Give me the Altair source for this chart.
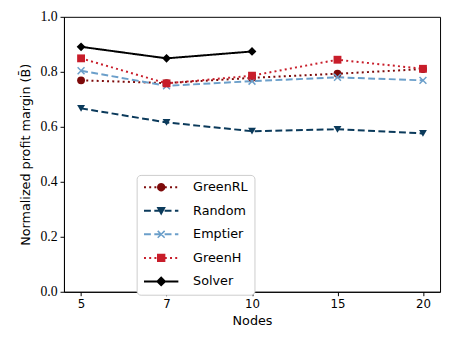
import math
import altair as alt
import pandas as pd

nodes = ["5", "7", "10", "15", "20"]
series = ["GreenRL", "Random", "Emptier", "GreenH", "Solver"]
greenrl = [0.769, 0.759, 0.778, 0.793, 0.810]
random_ = [0.667, 0.616, 0.584, 0.591, 0.576]
emptier = [0.804, 0.749, 0.766, 0.780, 0.769]
greenh = [0.849, 0.758, 0.786, 0.844, 0.811]
solver = [0.891, 0.849, 0.874]

colors = ["#7d0a0a", "#0b3a5b", "#6b9fca", "#c81d2a", "#000000"]
dashes = [[2, 3.3], [7, 3.5], [7, 3.5], [2, 3.3], [1, 0]]

rows = []
for name, vals in zip(series, [greenrl, random_, emptier, greenh, solver]):
    for n, v in zip(nodes, vals):
        rows.append({"nodes": n, "value": v, "series": name})
df = pd.DataFrame(rows)

x = alt.X("nodes:O", sort=nodes, scale=alt.Scale(type="point", padding=0.2),
          axis=alt.Axis(title="Nodes", labelAngle=0, labelFont="DejaVu Sans",
                        labelFontSize=12, titleFont="DejaVu Sans", titleFontSize=13,
                        titleFontWeight="normal", tickSize=4, labelPadding=3,
                        titlePadding=5, domainColor="black", tickColor="black",
                        labelColor="black", titleColor="black", grid=False))
y = alt.Y("value:Q", scale=alt.Scale(domain=[0, 1], nice=False, zero=True),
          axis=alt.Axis(title="Normalized profit margin (B\u0304)", values=[0, 0.2, 0.4, 0.6, 0.8, 1.0],
                        format=".1f", labelFont="Liberation Serif", labelFontSize=14,
                        titleFont="DejaVu Sans", titleFontSize=13, titleFontWeight="normal",
                        tickSize=4, labelPadding=3, titlePadding=8, domainColor="black",
                        tickColor="black", labelColor="black", titleColor="black", grid=False))

cscale = alt.Scale(domain=series, range=colors)
dscale = alt.Scale(domain=series, range=dashes)

# ---- legend glyphs (line sample + marker) as filled paths; unit = 5px ----
U = 5.0
HALF = 3.5   # half line length in units (35px)
TH = 0.2     # half line thickness (2px)


def rect(x0, x1, h=TH):
    return f"M{x0:.3f},{-h:.3f}L{x1:.3f},{-h:.3f}L{x1:.3f},{h:.3f}L{x0:.3f},{h:.3f}Z"


def line_path(pattern):
    on, off = pattern[0] / U, pattern[1] / U
    if off == 0:
        return rect(-HALF, HALF)
    parts = []
    pos = -HALF
    while pos < HALF:
        end = min(pos + on, HALF)
        parts.append(rect(pos, end))
        pos += on + off
    return "".join(parts)


def poly(pts):
    return "M" + "L".join(f"{px:.3f},{py:.3f}" for px, py in pts) + "Z"


def circle(r):
    return poly([(r * math.cos(2 * math.pi * k / 20), r * math.sin(2 * math.pi * k / 20)) for k in range(20)])


def xmark(a, t):
    paths = []
    for ang in (math.pi / 4, -math.pi / 4):
        c, s = math.cos(ang), math.sin(ang)
        pts = [(-a, -t), (a, -t), (a, t), (-a, t)]
        paths.append(poly([(px * c - py * s, px * s + py * c) for px, py in pts]))
    return "".join(paths)


markers = [
    circle(0.85),
    poly([(-0.95, -0.75), (0.95, -0.75), (0, 0.95)]),
    xmark(1.0, 0.16),
    poly([(-0.85, -0.85), (0.85, -0.85), (0.85, 0.85), (-0.85, 0.85)]),
    poly([(-1.05, 0), (0, -1.05), (1.05, 0), (0, 1.05)]),
]
legend_paths = [line_path(d) + m for d, m in zip(dashes, markers)]

legend_layer = alt.Chart(df).transform_filter("false").mark_point(
    filled=True, size=100, opacity=1, strokeWidth=0
).encode(
    x=x, y=y,
    color=alt.Color("series:N", scale=cscale, legend=alt.Legend(
        title=None, orient="none", legendX=74, legendY=161, labelFont="DejaVu Sans",
        labelFontSize=13, labelColor="black", symbolSize=100, symbolStrokeWidth=0,
        symbolOpacity=1, symbolOffset=12.5, labelOffset=26, rowPadding=10, padding=6,
        strokeColor="#cccccc", cornerRadius=4, fillColor="white")),
    shape=alt.Shape("series:N", scale=alt.Scale(domain=series, range=legend_paths)),
)

lines = alt.Chart(df).mark_line(strokeWidth=2).encode(
    x=x, y=y,
    color=alt.Color("series:N", scale=cscale, legend=None),
    strokeDash=alt.StrokeDash("series:N", scale=dscale, legend=None),
)

marker_shapes = ["circle", "triangle-down", "M-1,-1L1,1M-1,1L1,-1", "square", "diamond"]
marker_sizes = [64, 64, 49, 64, 80]
point_layers = []
for name, shp, sz in zip(series, marker_shapes, marker_sizes):
    filled = name != "Emptier"
    pl = alt.Chart(df).transform_filter(alt.datum.series == name).mark_point(
        filled=filled, size=sz, shape=shp, strokeWidth=1.5, opacity=1
    ).encode(
        x=x, y=y,
        color=alt.Color("series:N", scale=cscale, legend=None),
    )
    point_layers.append(pl)

chart = alt.layer(legend_layer, lines, *point_layers).properties(
    width=383, height=280,
    autosize=alt.AutoSizeParams(type="none"),
    padding={"left": 57, "top": 6, "right": 3, "bottom": 40},
).configure_view(stroke="black", strokeWidth=1)

chart.save("out.html", embed_options={"renderer": "svg", "actions": False})
